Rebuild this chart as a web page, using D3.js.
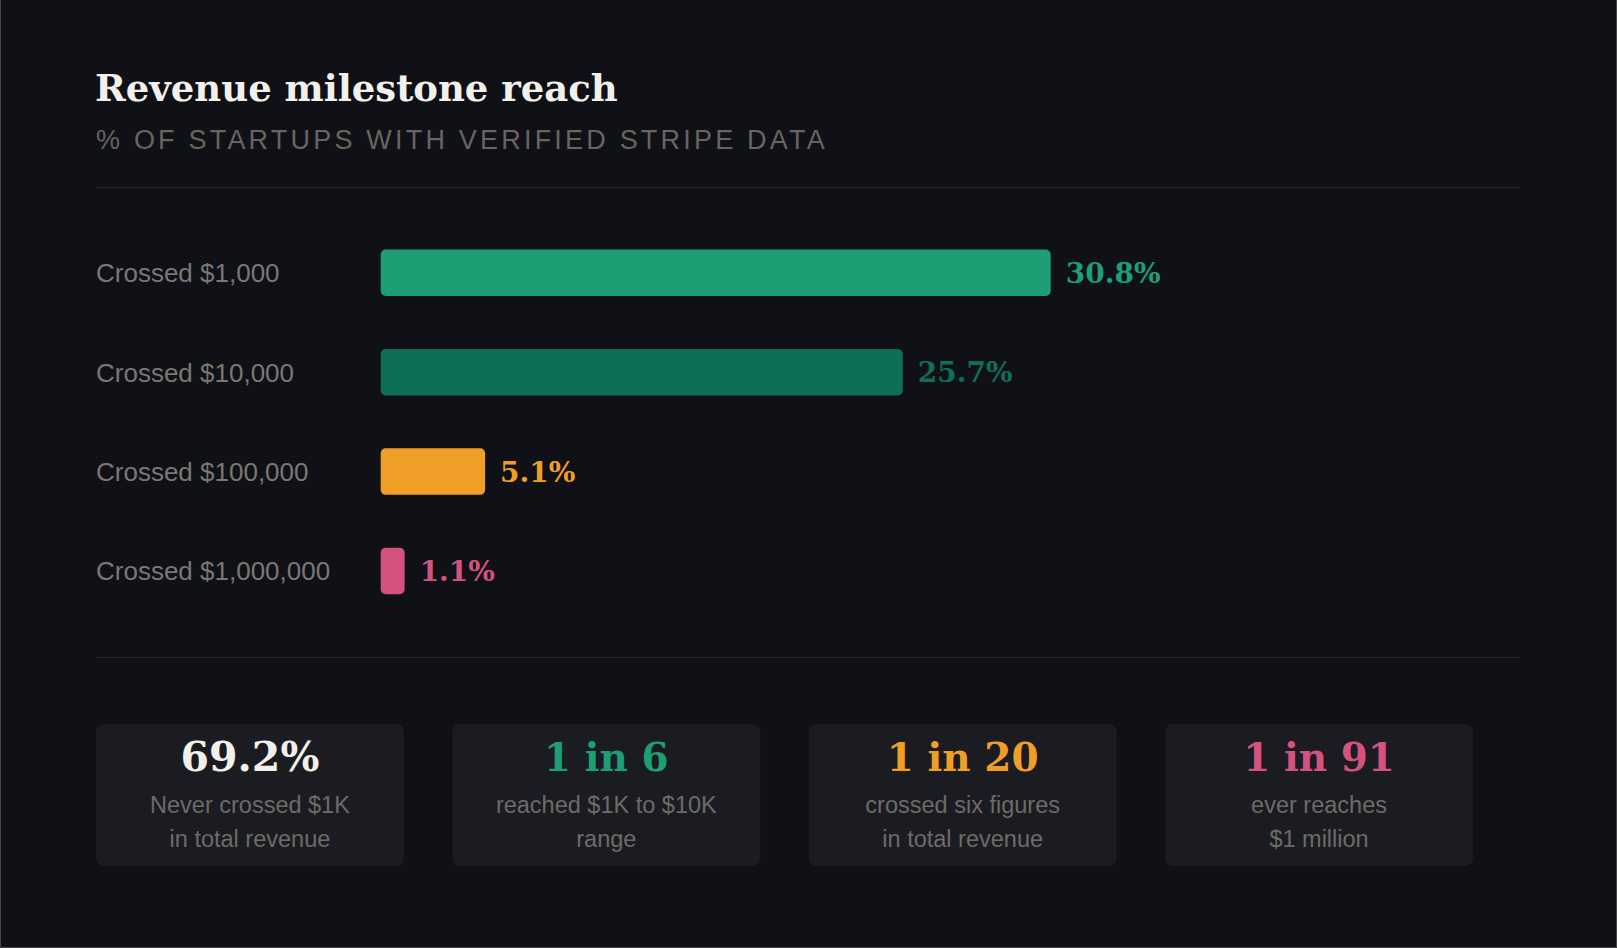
<!DOCTYPE html>
<html>
<head>
<meta charset="utf-8">
<script src="https://cdn.jsdelivr.net/npm/d3@7"></script>
<style>
  html, body { margin: 0; padding: 0; background: #101116; }
  svg { display: block; }
</style>
</head>
<body>
<div id="viz-container"></div>
<script>
// milestone rows
let milestones = ["Crossed $1,000", "Crossed $10,000", "Crossed $100,000", "Crossed $1,000,000"];
let valueLabels = ["30.8%", "25.7%", "5.1%", "1.1%"];
// bar lengths as drawn in the picture, in % units
let barReach = [30.8, 24.0, 4.8, 1.1];
let barColors = ["#1d9e75", "#0f6e56", "#ef9f27", "#d4537e"];

// stat cards
let cardFigures = ["69.2%", "1 in 6", "1 in 20", "1 in 91"];
let cardLines = [
  ["Never crossed $1K", "in total revenue"],
  ["reached $1K to $10K", "range"],
  ["crossed six figures", "in total revenue"],
  ["ever reaches", "$1 million"]
];
let cardColors = ["#f2f0ea", "#1d9e75", "#ef9f27", "#d4537e"];

let W = 1617, H = 948;
let serif = "'DejaVu Serif', Georgia, serif";
let sans = "'Liberation Sans', Arial, sans-serif";

let viz = d3.select("#viz-container")
  .append("svg")
    .attr("width", W)
    .attr("height", H)
;

viz.append("rect")
  .attr("width", W).attr("height", H)
  .attr("fill", "#101116");

// thin frame on left, right, bottom
viz.append("path")
  .attr("d", "M0.5,0 V" + (H - 0.5) + " H" + (W - 0.5) + " V0")
  .attr("fill", "none")
  .attr("stroke", "#45464b")
  .attr("stroke-width", 1);

// heading
viz.append("text")
  .attr("x", 95).attr("y", 101)
  .attr("font-family", serif)
  .attr("font-weight", "bold")
  .attr("font-size", 37)
  .attr("fill", "#f2f0ea")
  .text("Revenue milestone reach");

viz.append("text")
  .attr("x", 96).attr("y", 149)
  .attr("font-family", sans)
  .attr("font-size", 27)
  .attr("letter-spacing", 3.2)
  .attr("fill", "#67655f")
  .text("% OF STARTUPS WITH VERIFIED STRIPE DATA");

// dividers
[187, 657].forEach(function(y){
  viz.append("line")
    .attr("x1", 96).attr("x2", 1520)
    .attr("y1", y + 0.5).attr("y2", y + 0.5)
    .attr("stroke", "#26272c")
    .attr("stroke-width", 1);
});

// bars
let x = d3.scaleLinear().domain([0, 30.8]).range([380.7, 1050.7]);
let y = d3.scalePoint().domain(milestones).range([272.8, 571]);
let barH = 46.5;

let rows = viz.selectAll("g.row").data(milestones).enter()
  .append("g")
    .attr("class", "row")
    .attr("transform", function(d){ return "translate(0," + y(d) + ")"; })
;

rows.append("text")
  .attr("x", 96)
  .attr("y", 9.4)
  .attr("font-family", sans)
  .attr("font-size", 26)
  .attr("fill", "#7a7874")
  .text(function(d){ return d; });

rows.append("rect")
  .attr("x", x(0))
  .attr("y", -barH / 2)
  .attr("height", barH)
  .attr("width", function(d, i){ return x(barReach[i]) - x(0); })
  .attr("rx", 5)
  .attr("fill", function(d, i){ return barColors[i]; });

rows.append("text")
  .attr("x", function(d, i){ return x(barReach[i]) + 15; })
  .attr("y", 10)
  .attr("font-family", serif)
  .attr("font-weight", "bold")
  .attr("font-size", 28)
  .attr("fill", function(d, i){ return barColors[i]; })
  .text(function(d, i){ return valueLabels[i]; });

// cards
let cardX = d3.scaleBand().domain(d3.range(4)).range([96, 1473]).paddingInner(0.136).paddingOuter(0);
let cardTop = 724, cardH = 142;

let cards = viz.selectAll("g.card").data(cardFigures).enter()
  .append("g")
    .attr("class", "card")
    .attr("transform", function(d, i){ return "translate(" + cardX(i) + "," + cardTop + ")"; })
;

cards.append("rect")
  .attr("width", cardX.bandwidth())
  .attr("height", cardH)
  .attr("rx", 8)
  .attr("fill", "#1a1c22");

cards.append("text")
  .attr("x", cardX.bandwidth() / 2)
  .attr("y", 47)
  .attr("text-anchor", "middle")
  .attr("font-family", serif)
  .attr("font-weight", "bold")
  .attr("font-size", function(d, i){ return i === 0 ? 41 : 39; })
  .attr("fill", function(d, i){ return cardColors[i]; })
  .text(function(d){ return d; });

cards.each(function(d, i){
  d3.select(this).selectAll("text.sub").data(cardLines[i]).enter()
    .append("text")
      .attr("class", "sub")
      .attr("x", cardX.bandwidth() / 2)
      .attr("y", function(t, j){ return 89 + j * 33.5; })
      .attr("text-anchor", "middle")
      .attr("font-family", sans)
      .attr("font-size", 23.5)
      .attr("fill", "#6d6b67")
      .text(function(t){ return t; });
});
</script>
</body>
</html>
